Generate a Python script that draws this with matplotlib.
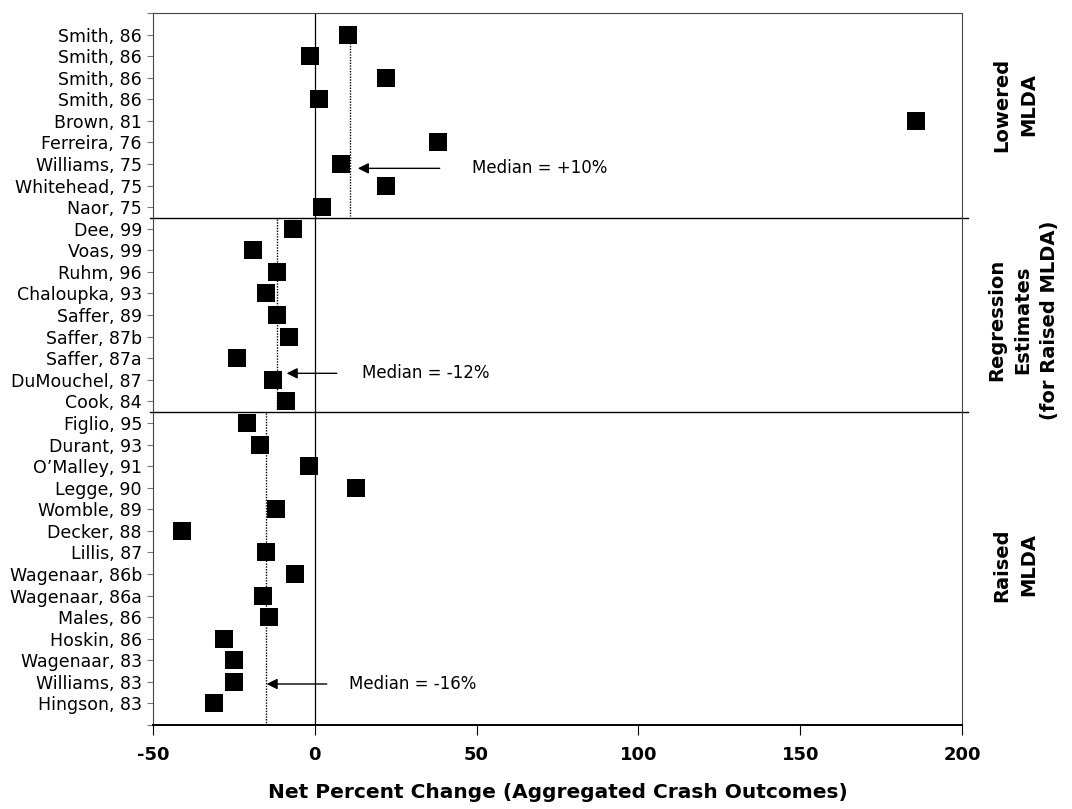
import matplotlib
matplotlib.use("Agg")
import matplotlib.pyplot as plt

studies = ["Smith, 86", "Smith, 86", "Smith, 86", "Smith, 86", "Brown, 81",
           "Ferreira, 76", "Williams, 75", "Whitehead, 75", "Naor, 75",
           "Dee, 99", "Voas, 99", "Ruhm, 96", "Chaloupka, 93", "Saffer, 89",
           "Saffer, 87b", "Saffer, 87a", "DuMouchel, 87", "Cook, 84",
           "Figlio, 95", "Durant, 93", "O\u2019Malley, 91", "Legge, 90", "Womble, 89",
           "Decker, 88", "Lillis, 87", "Wagenaar, 86b", "Wagenaar, 86a", "Males, 86",
           "Hoskin, 86", "Wagenaar, 83", "Williams, 83", "Hingson, 83"]
values = [10.2, -1.5, 22, 1.2, 185.7, 38, 8, 22, 2.2,
          -6.8, -19.1, -11.8, -15.1, -11.8, -8, -24.1, -13, -9,
          -21, -17, -1.9, 12.7, -12, -41, -15.2, -6.2, -16, -14.2,
          -28.1, -24.9, -24.9, -31]
groups = ["Lowered\nMLDA", "Regression\nEstimates\n(for Raised MLDA)", "Raised\nMLDA"]
group_sizes = [9, 9, 14]
medians = [10.8, -11.7, -15.2]
median_labels = ["Median = +10%", "Median = -12%", "Median = -16%"]
xticks = [-50, 0, 50, 100, 150, 200]

fig = plt.figure(figsize=(10.72, 8.09), dpi=100)
ax = fig.add_axes([153/1072, 1-725/809, (962-153)/1072, (725-13)/809])

n = len(studies)
ypos = list(range(1, n + 1))
ax.scatter(values, ypos, marker='s', s=175, color='black', zorder=3, linewidths=0)

ax.set_xlim(-50, 200)
ax.set_ylim(n + 1, 0)

# zero line
ax.axvline(0, color='black', lw=0.9, zorder=1)

# group separators and median lines
bounds = [0.5]
acc = 0
for s in group_sizes:
    acc += s
    bounds.append(acc + 0.5)
bounds[-1] = n + 1
for i, m in enumerate(medians):
    ax.plot([m, m], [bounds[i] + (0.1 if i == 0 else 0.05), bounds[i + 1] - (0.1 if i < 2 else 0.05)],
            color='black', lw=1.0, ls=(0, (1, 1)), zorder=2)
for b in bounds[1:-1]:
    ax.plot([-51, 202], [b, b], color='black', lw=1.0, clip_on=False, zorder=2)

# arrows & labels
arrow_specs = [(38.6, 13.3, 7.2, 48.5), (6.8, -8.7, 16.7, 14.5), (3.7, -14.9, 31.1, 10.5)]
for (x0, x1, yy, tx), lab in zip(arrow_specs, median_labels):
    ax.annotate("", xy=(x1, yy), xytext=(x0, yy),
                arrowprops=dict(arrowstyle='-|>', color='black', lw=1.0,
                                mutation_scale=16, shrinkA=0, shrinkB=0))
    ax.text(tx, yy, lab, fontsize=12, va='center', ha='left')

# ticks
ax.set_yticks([0] + ypos + [n + 1])
ax.set_yticklabels([""] + studies + [""], fontsize=12.5)
ax.tick_params(axis='y', length=4, width=0.8, color='#777777', pad=4)
ax.set_xticks(xticks)
ax.set_xticklabels([str(v) for v in xticks], fontsize=13, fontweight='bold')
ax.tick_params(axis='x', length=7, width=0.8, pad=8)
ax.set_xlabel("Net Percent Change (Aggregated Crash Outcomes)", fontsize=14.5,
              fontweight='bold', labelpad=14)

for side in ['left', 'top', 'right']:
    ax.spines[side].set_linewidth(0.8)
    ax.spines[side].set_color('#444444')
ax.spines['bottom'].set_linewidth(1.4)

# right group labels
label_pos = [(1015, 105), (1023, 320), (1015, 565)]
for (px, py), g in zip(label_pos, groups):
    fig.text(px/1072, 1-py/809, g, rotation=90, fontsize=14, fontweight='bold',
             ha='center', va='center', multialignment='center', linespacing=1.5)

fig.savefig("out.png", dpi=100)
